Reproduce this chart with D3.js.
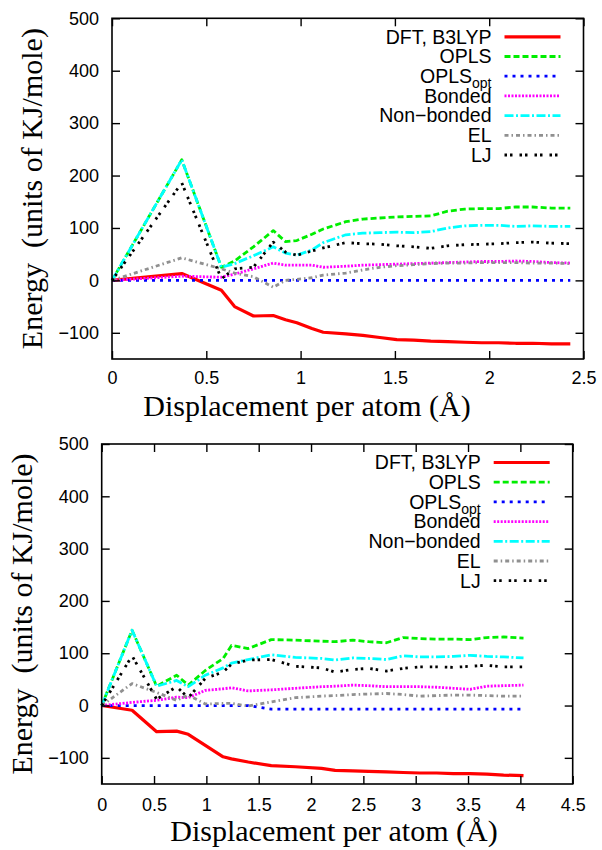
<!DOCTYPE html>
<html>
<head>
<meta charset="utf-8">
<script src="https://cdn.jsdelivr.net/npm/d3@7"></script>
<style>
  body { margin: 0; background: #fff; }
  svg { display: block; }
</style>
</head>
<body>
<svg id="chart" width="602" height="850"></svg>
<script>
  // displacement values (Å) - top panel
  const xTop = [0, 0.37, 0.58, 0.65, 0.75, 0.855, 0.92, 0.98, 1.06, 1.12, 1.24, 1.33, 1.42, 1.51, 1.6, 1.69, 1.78, 1.87, 1.96, 2.05, 2.14, 2.23, 2.33, 2.43];
  const dftTop = [0, 13, -19, -50, -68, -67, -75, -81, -92, -99, -102, -105, -109, -113, -114, -116, -117, -118, -119, -119, -120, -120, -121, -121];
  const oplsTop = [0, 230, 25, 37, 64, 95, 74, 76, 88, 98, 112, 117, 119, 121, 122, 123, 132, 136, 137, 137, 140, 140, 138, 138];
  const oplsOptTop = [0, 0, 0, 0, 0, 0, 0, 0, 0, 0, 0, 0, 0, 0, 0, 0, 0, 0, 0, 0, 0, 0, 0, 0];
  const bondedTop = [0, 8, 6, 12, 22, 33, 29, 29, 29, 25, 27, 29, 30, 31, 32, 33, 34, 35, 36, 36, 37, 36, 34, 33];
  const nonBondedTop = [0, 230, 25, 32, 47, 64, 52, 48, 58, 72, 87, 90, 91, 92, 91, 93, 100, 104, 105, 105, 103, 104, 103, 103];
  const elTop = [0, 43, 22, 14, 7, -13, 0, 2, 5, 10, 14, 20, 25, 28, 30, 32, 33, 33, 34, 34, 34, 33, 33, 32];
  const ljTop = [0, 186, 3, 22, 25, 73, 54, 48, 56, 62, 72, 70, 69, 66, 64, 61, 66, 68, 69, 70, 72, 73, 71, 70];

  // displacement values (Å) - bottom panel
  const xBottom = [0, 0.29, 0.525, 0.716, 0.827, 0.99, 1.16, 1.24, 1.4, 1.62, 1.85, 2.1, 2.23, 2.4, 2.55, 2.72, 2.88, 3.04, 3.2, 3.36, 3.52, 3.68, 3.84, 4.03];
  const dftBottom = [0, -9, -50, -49, -55, -76, -98, -102, -108, -115, -117, -120, -124, -125, -126, -127, -128, -129, -129, -130, -130, -131, -133, -134];
  const oplsBottom = [0, 144, 37, 58, 39, 67, 90, 115, 109, 126, 125, 123, 122, 125, 122, 120, 130, 128, 127, 127, 126, 130, 131, 129];
  const oplsOptBottom = [0, 0, 0, 0, 0, 0, 0, 0, 0, -7, -7, -7, -7, -7, -7, -7, -7, -7, -7, -7, -7, -7, -7, -7];
  const bondedBottom = [0, 6, 10, 16, 15, 29, 32, 34, 28, 30, 33, 36, 37, 39, 38, 36, 36, 36, 35, 33, 31, 37, 38, 39];
  const nonBondedBottom = [0, 144, 37, 48, 36, 58, 72, 81, 88, 97, 92, 90, 87, 91, 90, 88, 95, 93, 93, 94, 96, 94, 93, 91];
  const elBottom = [0, 42, 25, 10, 20, 3, 4, 4, -1, 7, 15, 18, 19, 21, 22, 23, 21, 18, 19, 20, 20, 19, 18, 18];
  const ljBottom = [0, 95, 12, 36, 15, 52, 64, 79, 87, 88, 75, 72, 64, 69, 71, 66, 71, 74, 74, 73, 75, 77, 74, 74];

  const seriesNames = ['DFT, B3LYP', 'OPLS', 'OPLS_opt', 'Bonded', 'Non\u2212bonded', 'EL', 'LJ'];
  const seriesColors = ['#ff0000', '#00ee00', '#0000ff', '#ff00ff', '#00ffff', '#909090', '#000000'];
  const seriesDashes = [null, '6,3', '3,5', '2,1.5', '9,2.5,2,2.5', '4,3,1.5,3', '2.5,3,2.5,7'];

  const yTicks = [-100, 0, 100, 200, 300, 400, 500];
  const xTicksTop = [0, 0.5, 1, 1.5, 2, 2.5];
  const xTicksBottom = [0, 0.5, 1, 1.5, 2, 2.5, 3, 3.5, 4, 4.5];

  const TICK_FONT = '"Liberation Sans", Arial, sans-serif';
  const TITLE_FONT = '"Liberation Serif", "Times New Roman", serif';

  const svg = d3.select('#chart');

  drawPanel(svg, {
    left: 112, right: 583.5, top: 18.3, bottom: 359,
    xMax: 2.5, xTicks: xTicksTop, xs: xTop,
    values: [dftTop, oplsTop, oplsOptTop, bondedTop, nonBondedTop, elTop, ljTop],
    tickLabelBaseline: 25, xTitleX: 307
  });

  drawPanel(svg, {
    left: 101.7, right: 572.7, top: 444, bottom: 784,
    xMax: 4.5, xTicks: xTicksBottom, xs: xBottom,
    values: [dftBottom, oplsBottom, oplsOptBottom, bondedBottom, nonBondedBottom, elBottom, ljBottom],
    tickLabelBaseline: 27, xTitleX: 334
  });

  function drawPanel(svg, p) {
    const x = d3.scaleLinear().domain([0, p.xMax]).range([p.left, p.right]);
    const y = d3.scaleLinear().domain([-150, 500]).range([p.bottom, p.top]);
    const g = svg.append('g');

    // series lines
    const line = d3.line()
      .x(d => x(d[0]))
      .y(d => y(d[1]));

    p.values.forEach((vals, i) => {
      const pts = p.xs.map((xv, j) => [xv, vals[j]]);
      g.append('path')
        .datum(pts)
        .attr('d', line)
        .attr('fill', 'none')
        .attr('stroke', seriesColors[i])
        .attr('stroke-width', i === 0 ? 3.2 : 2.8)
        .attr('stroke-dasharray', seriesDashes[i])
        .attr('stroke-linejoin', 'round');
    });

    // axes with inward ticks on all sides
    const yAxisL = g.append('g')
      .attr('transform', `translate(${p.left},0)`)
      .call(d3.axisLeft(y).tickValues(yTicks).tickSize(-8).tickPadding(13));
    const yAxisR = g.append('g')
      .attr('transform', `translate(${p.right},0)`)
      .call(d3.axisRight(y).tickValues(yTicks).tickSize(-8).tickFormat(''));
    const xAxisB = g.append('g')
      .attr('transform', `translate(0,${p.bottom})`)
      .call(d3.axisBottom(x).tickValues(p.xTicks).tickSize(-8).tickPadding(p.tickLabelBaseline - 13)
        .tickFormat(d3.format('')));
    const xAxisT = g.append('g')
      .attr('transform', `translate(0,${p.top})`)
      .call(d3.axisTop(x).tickValues(p.xTicks).tickSize(-8).tickFormat(''));

    [yAxisL, yAxisR, xAxisB, xAxisT].forEach(a => {
      a.select('.domain').remove();
      a.selectAll('line').attr('stroke', '#000').attr('stroke-width', 1.4);
      a.selectAll('text')
        .attr('font-family', TICK_FONT)
        .attr('font-size', 18)
        .attr('fill', '#000');
    });
    xAxisB.selectAll('text').attr('dy', '0.71em');

    // frame
    g.append('rect')
      .attr('x', p.left)
      .attr('y', p.top)
      .attr('width', p.right - p.left)
      .attr('height', p.bottom - p.top)
      .attr('fill', 'none')
      .attr('stroke', '#000')
      .attr('stroke-width', 1.6);

    // axis titles
    g.append('text')
      .attr('x', p.xTitleX)
      .attr('y', p.bottom + 57)
      .attr('text-anchor', 'middle')
      .attr('font-family', TITLE_FONT)
      .attr('font-size', 30)
      .text('Displacement per atom (\u00c5)');

    g.append('text')
      .attr('transform', `translate(${p.left - 70},${(p.top + p.bottom) / 2}) rotate(-90)`)
      .attr('text-anchor', 'middle')
      .attr('font-family', TITLE_FONT)
      .attr('font-size', 30)
      .style('white-space', 'pre')
      .text('Energy  (units of KJ/mole)');

    // legend
    const textX = p.right - 92;
    const lineX1 = p.right - 79;
    const lineX2 = p.right - 23;
    seriesNames.forEach((name, i) => {
      const cy = p.top + 18.5 + i * 19.7;
      const t = g.append('text')
        .attr('x', textX)
        .attr('y', cy + 6.8)
        .attr('text-anchor', 'end')
        .attr('font-family', TICK_FONT)
        .attr('font-size', 19.5);
      if (name === 'OPLS_opt') {
        t.append('tspan').text('OPLS');
        t.append('tspan').attr('font-size', 14).attr('dy', 5).text('opt');
      } else {
        t.text(name);
      }
      g.append('line')
        .attr('x1', lineX1)
        .attr('x2', lineX2)
        .attr('y1', cy)
        .attr('y2', cy)
        .attr('stroke', seriesColors[i])
        .attr('stroke-width', i === 0 ? 3.2 : 2.8)
        .attr('stroke-dasharray', seriesDashes[i]);
    });
  }
</script>
</body>
</html>
